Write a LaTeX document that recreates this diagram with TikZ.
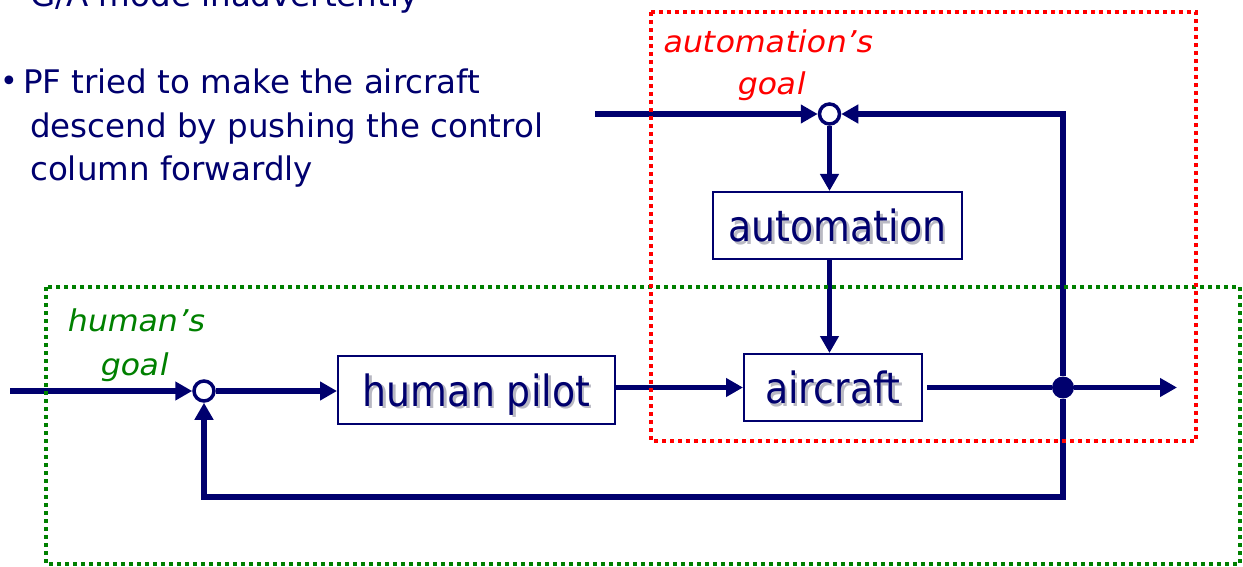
\documentclass[tikz,border=0pt]{standalone}
\usepackage{fontspec}
\setmainfont{DejaVu Sans}
\newfontfamily\boxfont[FakeStretch=0.88]{DejaVu Sans}
\newfontfamily\goalfont[FakeSlant=0.2,FakeStretch=1.06]{DejaVu Sans}
\usetikzlibrary{arrows.meta,calc}
\definecolor{navy}{RGB}{0,0,110}
\definecolor{goalred}{RGB}{255,0,0}
\definecolor{goalgreen}{RGB}{0,128,0}
\definecolor{shadowgray}{RGB}{185,185,195}
\newcommand\shtext[1]{\makebox[0pt][l]{\hspace{2.5pt}\raisebox{-2.5pt}{\color{shadowgray}#1}}#1}
\tikzset{
  blockbox/.style={draw=navy, line width=2pt, fill=white, inner sep=0pt,
    text=navy, font=\boxfont\fontsize{43}{48}\selectfont,
    text height=32pt, text depth=0pt},
  sumnode/.style={circle, draw=navy, line width=3.5pt, fill=white, inner sep=0pt, minimum size=20pt},
  dotnode/.style={circle, fill=navy, inner sep=0pt, minimum size=22pt},
  conn/.style={draw=navy, line width=5.5pt, -{Triangle[length=17pt,width=18pt]}},
  plain/.style={draw=navy, line width=5.5pt},
  bullettext/.style={anchor=base west, inner sep=0pt, text=navy, font=\fontsize{32.5}{38}\selectfont},
  goallabel/.style={anchor=base west, inner sep=0pt, font=\goalfont\fontsize{30}{34}\selectfont},
  dottedbox/.style={line width=4pt, dash pattern=on 4pt off 4pt},
}
\begin{document}
\begin{tikzpicture}[x=1pt,y=-1pt]
\useasboundingbox (0,0) rectangle (1243,567);
\clip (0,0) rectangle (1243,567);

% bullet text
\node[bullettext] (l0) at (30,7) {G/A mode inadvertently};
\node[anchor=base west, inner sep=0pt, text=navy, font=\fontsize{30}{34}\selectfont] (bul) at (0,92) {•};
\node[bullettext] (l1) at (23,94) {PF tried to make the aircraft};
\node[bullettext] (l2) at (30,138) {descend by pushing the control};
\node[bullettext] (l3) at (30,181) {column forwardly};

% goal labels
\node[goallabel, text=goalred] (ag1) at (662,53) {automation’s};
\node[goallabel, text=goalred] (ag2) at (736,95) {goal};
\node[goallabel, text=goalgreen] (hg1) at (66,331) {human’s};
\node[goallabel, text=goalgreen] (hg2) at (99,375) {goal};

% blocks
\node[blockbox, minimum width=249pt, minimum height=67pt] (auto) at (837.5,225.5) {\shtext{automation}};
\node[blockbox, minimum width=178pt, minimum height=67pt] (aircraft) at (833,387.5) {\shtext{aircraft}};
\node[blockbox, minimum width=277pt, minimum height=68pt] (pilot) at (476.5,390) {\shtext{human pilot}};

% junctions
\node[sumnode] (sum1) at (204,391) {};
\node[sumnode] (sum2) at (829.5,114) {};
\node[dotnode] (dot) at (1063,387.5) {};

\coordinate (hin) at (10,391);
\coordinate (ain) at (595,114);
\coordinate (out) at (1177,387.5);
\coordinate (fbtop) at (1063,114);
\coordinate (fbbot) at (1063,497);

% connectors
\draw[conn] (hin) -- (sum1);
\draw[conn] (sum1) -- (sum1 -| pilot.west);
\draw[conn] (pilot.east |- aircraft.west) -- (aircraft.west);
\draw[plain, shorten <=4pt] (aircraft.east) -- (dot);
\draw[conn] (dot) -- (out);
\draw[conn] (ain) -- (sum2);
\draw[conn] (sum2) -- (sum2 |- auto.north);
\draw[conn] (sum2 |- auto.south) -- (sum2 |- aircraft.north);
\draw[conn] (dot) -- (fbtop) -- (sum2);
\draw[conn] (dot) -- (fbbot) -- (sum1 |- fbbot) -- (sum1);

% dotted boundaries
\draw[dottedbox, draw=goalgreen] (46,287) rectangle (1240,564);
\draw[dottedbox, draw=goalred] (651,12) rectangle (1196,441);
\end{tikzpicture}
\end{document}
